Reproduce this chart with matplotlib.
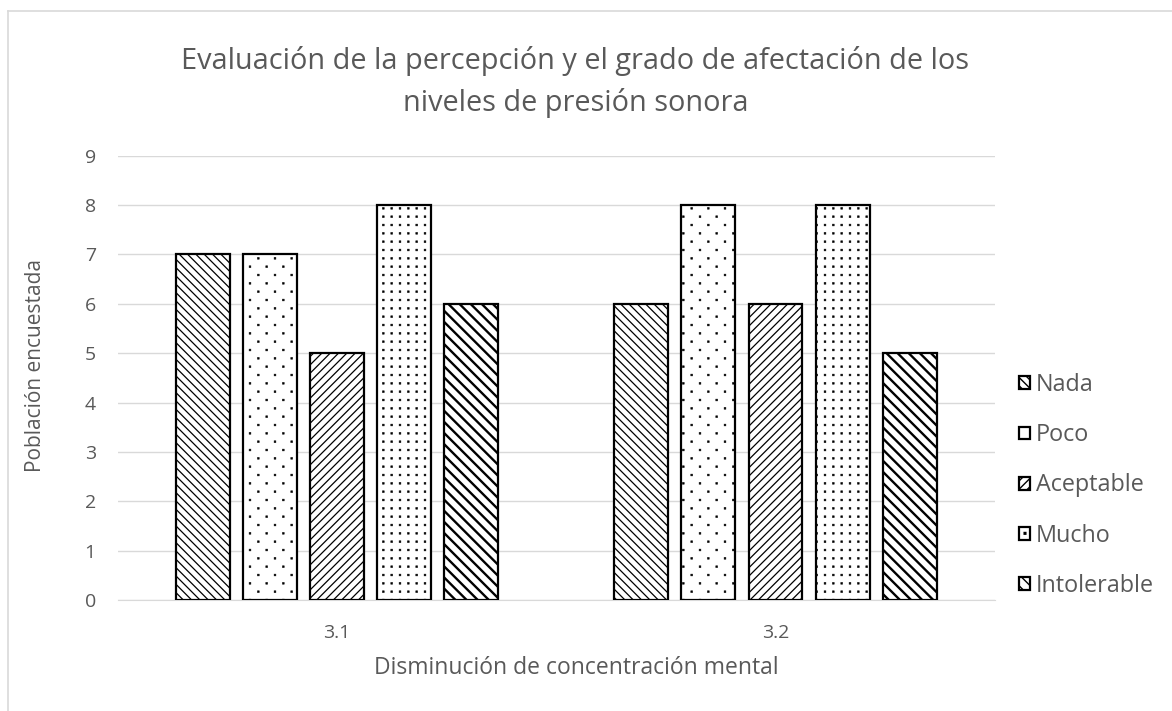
import numpy as np
import matplotlib.pyplot as plt
from matplotlib import hatch as mhatch
from matplotlib.path import Path
from matplotlib.lines import Line2D

categorias = ['3.1', '3.2']
series = ['Nada', 'Poco', 'Aceptable', 'Mucho', 'Intolerable']
valores = {
    'Nada': [7, 6],
    'Poco': [7, 8],
    'Aceptable': [5, 6],
    'Mucho': [8, 8],
    'Intolerable': [6, 5],
}
tramas = ['\\\\\\\\', '.', '////', '...', '\\\\\\']
grosor_trama = [0.9, 0.4, 0.9, 0.4, 1.7]


# puntos pequeños como en Excel (reemplaza el patron '.' de matplotlib)
class Puntos(mhatch.HatchPatternBase):
    def __init__(self, hatch, density):
        n = hatch.count('.')
        self.centros = []
        if n == 1:
            # rejilla alternada: 6 columnas, 12 filas por pulgada
            for fila in range(13):
                y = fila / 12
                if fila % 2 == 0:
                    xs = np.linspace(0, 1, 7)
                else:
                    xs = np.linspace(1 / 12, 11 / 12, 6)
                self.centros += [(x, y) for x in xs]
        elif n >= 2:
            # rejilla cuadrada de 12 por pulgada
            for fila in range(13):
                for col in range(13):
                    self.centros.append((col / 12, fila / 12))
        self.num_vertices = 5 * len(self.centros)

    def set_vertices_and_codes(self, vertices, codes):
        t = 0.0085
        cuadro = np.array([[-t, -t], [t, -t], [t, t], [-t, t], [-t, -t]])
        for k, (cx, cy) in enumerate(self.centros):
            vertices[5 * k:5 * k + 5] = cuadro + [cx, cy]
            codes[5 * k:5 * k + 5] = [Path.MOVETO, Path.LINETO, Path.LINETO,
                                      Path.LINETO, Path.CLOSEPOLY]


mhatch._hatch_types = [h for h in mhatch._hatch_types
                       if h is not mhatch.SmallFilledCircles] + [Puntos]

plt.rcParams['font.family'] = ['Open Sans', 'DejaVu Sans']
gris = '#595959'

fig = plt.figure(figsize=(11.72, 7.11), dpi=100)
ax = fig.add_axes([0.1007, 0.156, 0.748, 0.625])

x = np.arange(len(categorias))
paso = 0.153
ancho = 0.123
for i, s in enumerate(series):
    with plt.rc_context({'hatch.linewidth': grosor_trama[i]}):
        barras = ax.bar(x + (i - 2) * paso, valores[s], ancho, color='white',
                        edgecolor='black', linewidth=1.6, hatch=tramas[i],
                        label=s, zorder=3)
    for b in barras:
        if hasattr(b, 'set_hatch_linewidth'):
            b.set_hatch_linewidth(grosor_trama[i])

ax.set_xlim(-0.5, 1.5)
ax.set_ylim(0, 9)
ax.set_yticks(range(0, 10))
ax.set_xticks(x)
ax.set_xticklabels(categorias)
ax.grid(axis='y', color='#d9d9d9', linewidth=1, zorder=0)
for lado in ['top', 'right', 'left']:
    ax.spines[lado].set_visible(False)
ax.spines['bottom'].set_color('#d9d9d9')
ax.tick_params(length=0, labelsize=14, colors=gris, pad=17)
ax.tick_params(axis='y', pad=16)

ax.set_xlabel('Disminución de concentración mental', fontsize=16.5, color=gris, va='center')
ax.xaxis.set_label_coords(0.523, -0.153)
ax.set_ylabel('Población encuestada', fontsize=15, color=gris, va='center')
ax.yaxis.set_label_coords(-0.094, 0.529)
fig.text(0.491, 0.8847, 'Evaluación de la percepción y el grado de afectación de los\nniveles de presión sonora',
         ha='center', va='center', fontsize=20.8, color=gris, linespacing=1.5)

leg = ax.legend(loc='center left', bbox_to_anchor=(1.004, 0.258), frameon=False,
                fontsize=16.8, labelcolor=gris, handlelength=0.47, handleheight=0.47,
                handletextpad=0.25, labelspacing=1.12)

# marco gris del grafico
fig.add_artist(Line2D([8 / 1172, 1], [1 - 11 / 711] * 2, transform=fig.transFigure,
                      color='#d9d9d9', linewidth=1.2))
fig.add_artist(Line2D([8 / 1172] * 2, [0, 1 - 11 / 711], transform=fig.transFigure,
                      color='#d9d9d9', linewidth=1.2))

fig.savefig('out.png', dpi=100)
